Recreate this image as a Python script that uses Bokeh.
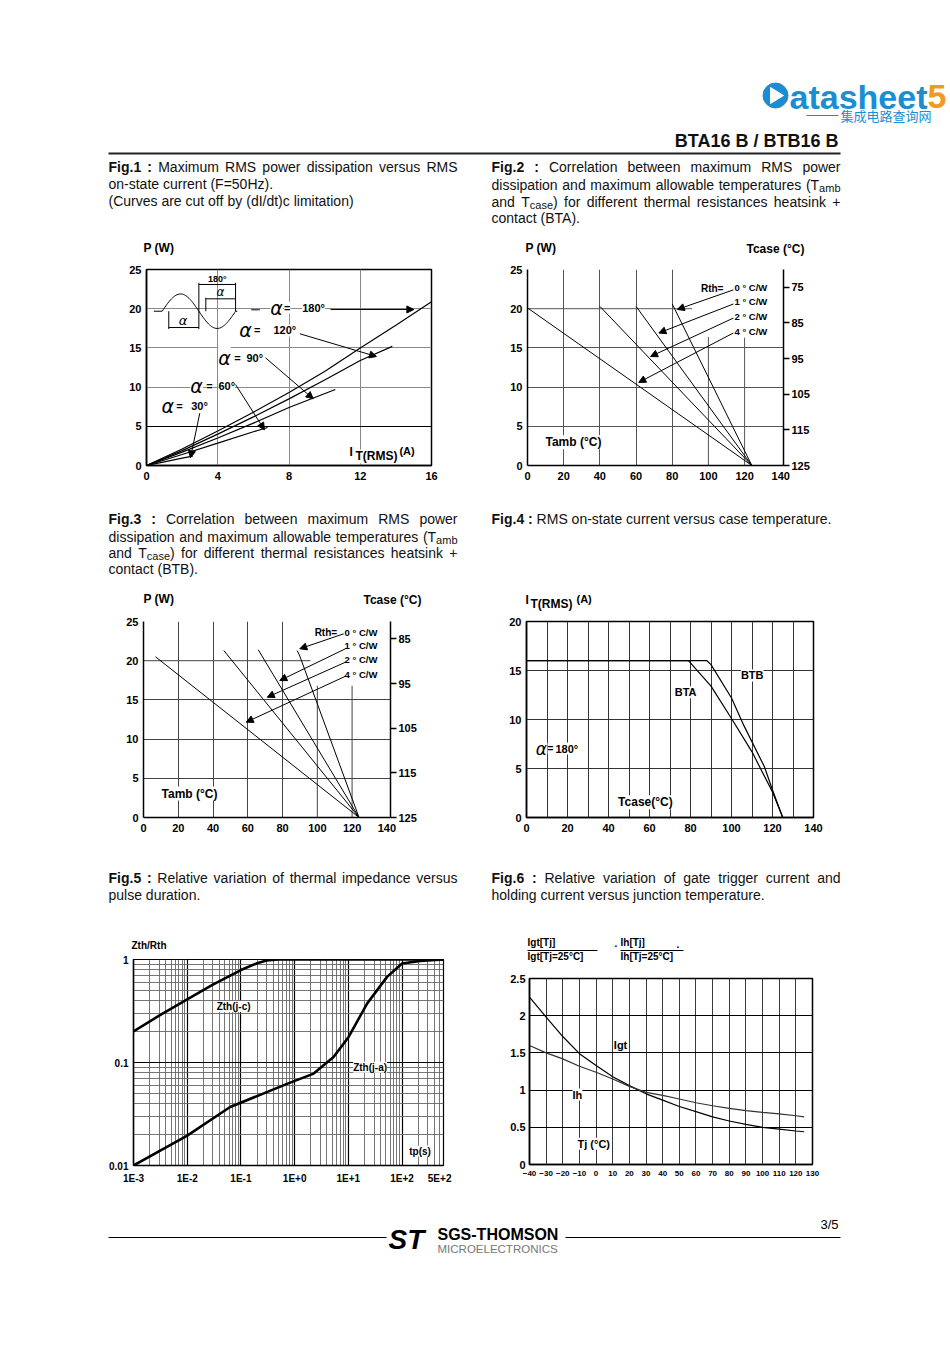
import re
import numpy as np
from bokeh.plotting import figure
from bokeh.layouts import column, row
from bokeh.models import (Range1d, FixedTicker, LinearAxis, Arrow, NormalHead, Grid,
                          NumeralTickFormatter)
from bokeh.core.properties import value
from bokeh.embed import file_html
from bokeh.resources import INLINE

SANS = "Liberation Sans"
GREEK = "DejaVu Sans"
CJK = "Noto Sans CJK SC"

# ======================= DATA =======================
# Fig.1 : P (W) versus IT(RMS) (A) for several conduction angles
f1_xticks = [0, 4, 8, 12, 16]
f1_yticks = [0, 5, 10, 15, 20, 25]
f1_alpha = ["180°", "120°", "90°", "60°", "30°"]
f1_i_180 = [0, 2, 4, 6, 8, 10, 12, 14, 16]
f1_p_180 = [0, 2.1, 4.4, 6.8, 9.3, 12.0, 15.0, 17.9, 20.9]
f1_i_120 = [0, 2, 4, 6, 8, 10, 12, 13.8]
f1_p_120 = [0, 1.9, 4.0, 6.2, 8.5, 10.9, 13.4, 15.2]
f1_i_90 = [0, 2, 4, 6, 8, 10.6]
f1_p_90 = [0, 1.7, 3.5, 5.4, 7.4, 9.7]
f1_i_60 = [0, 2, 4, 6, 6.8]
f1_p_60 = [0, 1.4, 2.85, 4.3, 4.85]
f1_i_30 = [0, 1, 2, 2.6]
f1_p_30 = [0, 0.47, 0.93, 1.2]

# Fig.2 : BTA, P (W) versus Tamb for Rth heatsink + contact
f2_xticks = [0, 20, 40, 60, 80, 100, 120, 140]
f2_yticks = [0, 5, 10, 15, 20, 25]
f2_tcase_ticks = [75, 85, 95, 105, 115, 125]
f2_rth = ["0 ° C/W", "1 ° C/W", "2 ° C/W", "4 ° C/W"]
f2_tamb_rth0 = [80, 124]
f2_p_rth0 = [20.6, 0]
f2_tamb_rth1 = [60, 124]
f2_p_rth1 = [20.3, 0]
f2_tamb_rth2 = [40, 124]
f2_p_rth2 = [20.3, 0]
f2_tamb_rth4 = [0, 124]
f2_p_rth4 = [20.1, 0]

# Fig.3 : BTB
f3_xticks = [0, 20, 40, 60, 80, 100, 120, 140]
f3_yticks = [0, 5, 10, 15, 20, 25]
f3_tcase_ticks = [85, 95, 105, 115, 125]
f3_rth = ["0 ° C/W", "1 ° C/W", "2 ° C/W", "4 ° C/W"]
f3_tamb_rth0 = [88.4, 89.9, 124]
f3_p_rth0 = [21.3, 20.6, 0]
f3_tamb_rth1 = [66.0, 124]
f3_p_rth1 = [21.4, 0]
f3_tamb_rth2 = [46.2, 124]
f3_p_rth2 = [21.3, 0]
f3_tamb_rth4 = [6.9, 124]
f3_p_rth4 = [20.5, 0]

# Fig.4 : IT(RMS) (A) versus Tcase
f4_xticks = [0, 20, 40, 60, 80, 100, 120, 140]
f4_yticks = [0, 5, 10, 15, 20]
f4_tcase_bta = [0, 79, 90, 100, 110, 120, 125]
f4_it_bta = [16, 16, 13.4, 10.1, 6.7, 2.6, 0]
f4_tcase_btb = [0, 88, 90, 100, 106, 116, 120, 125]
f4_it_btb = [16, 16, 15.6, 12.2, 9.4, 5.2, 2.8, 0]

# Fig.5 : Zth/Rth versus tp (s)
f5_xticks = [1e-3, 1e-2, 1e-1, 1, 10, 100, 500]
f5_xlabels = ["1E-3", "1E-2", "1E-1", "1E+0", "1E+1", "1E+2", "5E+2"]
f5_yticks = [0.01, 0.1, 1]
f5_ylabels = ["0.01", "0.1", "1"]
f5_tp_jc = [1e-3, 3e-3, 1e-2, 3e-2, 0.1, 0.2, 0.3, 0.5, 590]
f5_z_jc = [0.2, 0.285, 0.41, 0.57, 0.79, 0.92, 0.98, 1.0, 1.0]
f5_tp_ja = [1e-3, 1e-2, 0.063, 0.72, 2.26, 5.3, 10.1, 22.3, 52.5, 100, 219, 590]
f5_z_ja = [0.01, 0.0195, 0.037, 0.062, 0.078, 0.113, 0.177, 0.373, 0.678, 0.914, 0.97, 1.0]

# Fig.6 : Igt and Ih relative to 25 °C versus Tj
f6_xticks = list(range(-40, 131, 10))
f6_yticks = [0, 0.5, 1, 1.5, 2, 2.5]
f6_tj = [-40, -30, -20, -10, 0, 10, 20, 30, 40, 50, 60, 70, 80, 90, 100, 110, 120, 125]
f6_igt = [2.25, 1.98, 1.72, 1.49, 1.33, 1.18, 1.06, 0.95, 0.865, 0.78, 0.71, 0.64, 0.585,
          0.54, 0.50, 0.475, 0.45, 0.44]
f6_ih = [1.6, 1.5, 1.42, 1.32, 1.24, 1.15, 1.05, 0.97, 0.93, 0.88, 0.83, 0.79, 0.755,
         0.725, 0.70, 0.68, 0.655, 0.64]

# ======================= HELPERS =======================
_REG = dict(zip("abcdefghijklmnopqrstuvwxyz",
                [556, 556, 500, 556, 556, 278, 556, 556, 222, 222, 500, 222, 833, 556, 556, 556,
                 556, 333, 500, 278, 556, 500, 722, 500, 500, 500]))
_REG.update(zip("ABCDEFGHIJKLMNOPQRSTUVWXYZ",
                [667, 667, 722, 722, 667, 611, 778, 722, 278, 500, 667, 556, 833, 722, 778, 667,
                 778, 722, 667, 611, 722, 667, 944, 667, 667, 611]))
_REG.update({d: 556 for d in "0123456789"})
_REG.update({' ': 278, '.': 278, ',': 278, ':': 278, '(': 333, ')': 333, '-': 333, '+': 584,
             '=': 584, '/': 278, '°': 400})
_BOLD = dict(_REG)
_BOLD.update({'F': 611, 'i': 278, 'g': 611, ':': 333, ' ': 278})

CAP = 14


def seg_w(t, kind):
    if kind == "b":
        return sum(_BOLD.get(c, 556) for c in t) * CAP / 1000
    if kind == "s":
        return sum(_REG.get(c, 556) for c in t) * 11 / 1000
    return sum(_REG.get(c, 556) for c in t) * CAP / 1000


def parse_word(w, bold):
    segs = []
    for part in re.split(r"(_\{[^}]*\})", w):
        if not part:
            continue
        if part.startswith("_{"):
            segs.append((part[2:-1], "s"))
        else:
            segs.append((part, "b" if bold else "r"))
    return segs


def caption(p, x0, x1, yc, line, justify):
    toks = line.split()
    nb = 2 if line.startswith("Fig.") else 0
    items = [parse_word(w, k < nb) for k, w in enumerate(toks)]
    widths = [sum(seg_w(t, k) for t, k in segs) for segs in items]
    if justify and len(items) > 1:
        gap = (x1 - x0 - sum(widths)) / (len(items) - 1)
    else:
        gap = 278 * CAP / 1000
    groups = {"r": ([], [], []), "b": ([], [], []), "s": ([], [], [])}
    x = x0
    for segs, wd in zip(items, widths):
        xx = x
        for t, k in segs:
            gx, gy, gt = groups[k]
            gx.append(xx)
            gy.append(yc + (3.5 if k == "s" else 0))
            gt.append(t)
            xx += seg_w(t, k)
        x += wd + gap
    for k, (gx, gy, gt) in groups.items():
        if not gx:
            continue
        p.text(x=gx, y=gy, text=gt, text_font=value(SANS),
               text_font_size=("11px" if k == "s" else f"{CAP}px"),
               text_font_style=("bold" if k == "b" else "normal"),
               text_align="left", text_baseline="middle", text_color="#111111")


def txt(p, x, y, s, size=11, style="bold", align="left", baseline="middle",
        color="black", font=SANS, bg=None):
    p.text(x=[x], y=[y], text=[s], text_font=value(font), text_font_size=f"{size}px",
           text_font_style=style, text_align=align, text_baseline=baseline,
           text_color=color, background_fill_color=bg)


def band(x0, x1, y0, y1):
    p = figure(width=x1 - x0, height=y1 - y0, x_range=Range1d(x0, x1),
               y_range=Range1d(y1, y0), output_backend="svg", toolbar_location=None,
               x_axis_location=None, y_axis_location=None, frame_align=False,
               min_border_left=0, min_border_right=0, min_border_top=0, min_border_bottom=0)
    p.outline_line_color = None
    p.center = []
    p.background_fill_color = "white"
    p.border_fill_color = "white"
    return p


def chart(x0, x1, y0, y1, fl, ft, fw, fh, xr, yr, **kw):
    W, H = x1 - x0, y1 - y0
    left, top = fl - x0, ft - y0
    p = figure(width=W, height=H, x_range=xr, y_range=yr, output_backend="svg",
               toolbar_location=None, frame_align=False, min_border_left=left,
               min_border_right=W - left - fw, min_border_top=top,
               min_border_bottom=H - top - fh, **kw)
    p.background_fill_color = "white"
    p.border_fill_color = "white"
    p.outline_line_color = None
    for ax in p.axis:
        style_axis(ax)
    return p


def style_axis(ax, size="11px", standoff=5):
    ax.axis_line_color = "black"
    ax.axis_line_width = 1.5
    ax.major_tick_line_color = None
    ax.minor_tick_line_color = None
    ax.major_tick_in = 0
    ax.major_tick_out = 0
    ax.minor_tick_in = 0
    ax.minor_tick_out = 0
    ax.major_label_text_font = SANS
    ax.major_label_text_font_size = size
    ax.major_label_text_font_style = "bold"
    ax.major_label_text_color = "black"
    ax.major_label_standoff = standoff


def arrow(p, xs, ys, xe, ye, size=7):
    p.add_layout(Arrow(end=NormalHead(size=size, fill_color="black", line_color="black"),
                       x_start=xs, y_start=ys, x_end=xe, y_end=ye,
                       line_color="black", line_width=1))


def tcase_axis(p, rng, ticks):
    p.extra_y_ranges = {"tc": rng}
    ax = LinearAxis(y_range_name="tc", ticker=FixedTicker(ticks=ticks))
    style_axis(ax, standoff=2)
    ax.major_tick_out = 6
    ax.major_tick_line_color = "black"
    ax.major_tick_line_width = 1.5
    p.add_layout(ax, "right")


# page geometry (the page is drawn from its top-left corner)
PW, PH = 950, 1345
MID = 475

# ======================= HEADER =======================
HEAD = band(0, PW, 0, 156)
HEAD.circle(x=[775], y=[95], radius=12.5, fill_color="#1b8ed3", line_color="#1b8ed3")
HEAD.patch(x=[770, 770, 783], y=[87, 103, 95], fill_color="white", line_color="white")
txt(HEAD, 789, 96, "atasheet", size=34, style="bold", color="#1b8ed3")
txt(HEAD, 927, 96, "5", size=34, style="bold", color="#f29a1f")
HEAD.segment(x0=[806], y0=[115], x1=[838], y1=[115], line_color="#1b8ed3", line_width=1)
txt(HEAD, 840, 115, "集成电路查询网", size=13, style="normal", color="#1b8ed3", font=CJK)
txt(HEAD, 838, 140, "BTA16 B / BTB16 B", size=18, style="bold", align="right",
    color="#111111")
HEAD.segment(x0=[108], y0=[153], x1=[840], y1=[153], line_color="#222222", line_width=2)

# ======================= TEXT BANDS =======================
T1 = band(0, MID, 156, 260)
caption(T1, 108, 457, 166, "Fig.1 : Maximum RMS power dissipation versus RMS", True)
caption(T1, 108, 457, 183, "on-state current (F=50Hz).", False)
caption(T1, 108, 457, 200, "(Curves are cut off by (dI/dt)c limitation)", False)
txt(T1, 143, 247, "P (W)", size=12)

T2 = band(MID, PW, 156, 260)
caption(T2, 491, 840, 166, "Fig.2 : Correlation between maximum RMS power", True)
caption(T2, 491, 840, 184, "dissipation and maximum allowable temperatures (T_{amb}", True)
caption(T2, 491, 840, 201, "and T_{case}) for different thermal resistances heatsink +", True)
caption(T2, 491, 840, 217, "contact (BTA).", False)
txt(T2, 525, 247, "P (W)", size=12)
txt(T2, 746, 248, "Tcase (°C)", size=12)

T3 = band(0, MID, 490, 611)
caption(T3, 108, 457, 518, "Fig.3 : Correlation between maximum RMS power", True)
caption(T3, 108, 457, 536, "dissipation and maximum allowable temperatures (T_{amb}", True)
caption(T3, 108, 457, 552, "and T_{case}) for different thermal resistances heatsink +", True)
caption(T3, 108, 457, 568, "contact (BTB).", False)
txt(T3, 143, 598, "P (W)", size=12)
txt(T3, 363, 599, "Tcase (°C)", size=12)

T4 = band(MID, PW, 490, 611)
caption(T4, 491, 840, 518, "Fig.4 : RMS on-state current versus case temperature.", False)
txt(T4, 525, 599, "I", size=12)
txt(T4, 530, 603, "T(RMS)", size=12)
txt(T4, 576, 598, "(A)", size=11)

T5 = band(0, MID, 845, 952)
caption(T5, 108, 457, 877, "Fig.5 : Relative variation of thermal impedance versus", True)
caption(T5, 108, 457, 894, "pulse duration.", False)
txt(T5, 131, 945, "Zth/Rth", size=10)

T6 = band(MID, PW, 845, 970)
caption(T6, 491, 840, 877, "Fig.6 : Relative variation of gate trigger current and", True)
caption(T6, 491, 840, 894, "holding current versus junction temperature.", False)
txt(T6, 527, 942, "Igt[Tj]", size=10)
txt(T6, 527, 956, "Igt[Tj=25°C]", size=10)
T6.segment(x0=[527, 620], y0=[950, 950], x1=[597, 683], y1=[950, 950],
           line_color="black", line_width=1)
txt(T6, 614, 942, ".", size=10)
txt(T6, 620, 942, "Ih[Tj]", size=10)
txt(T6, 676, 943, ".", size=10)
txt(T6, 620, 956, "Ih[Tj=25°C]", size=10)

# ======================= FIG 1 =======================
C1 = chart(0, MID, 260, 490, 146, 269, 285, 196, Range1d(0, 16), Range1d(0, 25))
C1.xaxis.ticker = FixedTicker(ticks=f1_xticks)
C1.yaxis.ticker = FixedTicker(ticks=f1_yticks)
C1.xaxis.major_label_standoff = 6
C1.xgrid.ticker = FixedTicker(ticks=[4, 8, 12])
C1.ygrid.ticker = FixedTicker(ticks=[10, 15, 20])
C1.xgrid.grid_line_color = "#8a8a8a"
C1.ygrid.grid_line_color = "#8a8a8a"
C1.add_layout(Grid(dimension=1, ticker=FixedTicker(ticks=[5]), grid_line_color="black"))
C1.outline_line_color = "black"
C1.outline_line_width = 1.5
for xs, ys in [(f1_i_180, f1_p_180), (f1_i_120, f1_p_120), (f1_i_90, f1_p_90),
               (f1_i_60, f1_p_60), (f1_i_30, f1_p_30)]:
    C1.line(xs, ys, line_color="black", line_width=1.2)
f1_lab_ax = [7.30, 5.56, 4.38, 2.81, 1.20]
f1_lab_eq = [7.90, 6.21, 5.11, 3.54, 1.85]
f1_lab_nx = [8.74, 7.13, 5.61, 4.04, 2.51]
f1_lab_y = [20.11, 17.22, 13.74, 10.08, 7.65]
for a, e, n, y, lab in zip(f1_lab_ax, f1_lab_eq, f1_lab_nx, f1_lab_y, f1_alpha):
    txt(C1, a, y, "α", size=19, style="italic", align="center", font=GREEK, bg="white")
    txt(C1, e, y, "=", size=11, align="center", bg="white")
    txt(C1, n, y, lab, size=11, bg="white")
C1.segment(x0=[5.88], y0=[19.86], x1=[6.36], y1=[19.86], line_color="black", line_width=1)
for xs, ys, xe, ye in [(10.33, 19.90, 15.01, 19.90), (8.61, 16.80, 12.91, 13.90),
                       (6.68, 13.74, 9.36, 8.51), (5.00, 10.33, 6.62, 4.55),
                       (2.99, 6.67, 2.47, 0.98)]:
    arrow(C1, xs, ys, xe, ye)
# waveform sketch
wx = np.linspace(0.88, 5.0, 80)
wy = 19.68 + 2.2 * np.sin(np.pi * (wx - 0.88) / 2.06)
C1.line(np.concatenate([[0.41], wx, [5.1]]), np.concatenate([[19.68], wy, [19.68]]),
        line_color="black", line_width=1)
C1.segment(x0=[1.25, 2.94, 1.25, 2.94, 5.0, 2.94, 3.33, 3.33],
           y0=[19.68, 19.68, 17.6, 19.68, 19.68, 23.09, 19.68, 21.26],
           x1=[1.25, 2.94, 2.94, 2.94, 5.0, 5.0, 3.33, 5.0],
           y1=[17.4, 17.4, 17.6, 23.3, 23.3, 23.09, 21.4, 21.26],
           line_color="black", line_width=1)
txt(C1, 2.05, 18.55, "α", size=13, style="italic", align="center", font=GREEK)
txt(C1, 4.15, 22.15, "α", size=12, style="italic", align="center", font=GREEK)
txt(C1, 3.97, 23.75, "180°", size=9, align="center")
txt(C1, 11.40, 1.66, "I", size=12, bg="white")
txt(C1, 11.73, 1.15, "T(RMS)", size=12, bg="white")
txt(C1, 14.20, 1.79, "(A)", size=11, bg="white")

# ======================= FIG 2 =======================
C2 = chart(MID, PW, 260, 490, 527, 269, 256, 196, Range1d(0, 141.5), Range1d(0, 25))
C2.xaxis.ticker = FixedTicker(ticks=f2_xticks)
C2.yaxis.ticker = FixedTicker(ticks=f2_yticks)
C2.xaxis.major_label_standoff = 6
C2.xgrid.ticker = FixedTicker(ticks=[20, 40, 60, 80])
C2.ygrid.ticker = FixedTicker(ticks=[5, 10, 15])
C2.xgrid.grid_line_color = "#555555"
C2.ygrid.grid_line_color = "#555555"
C2.segment(x0=[100, 120, 0], y0=[0, 0, 20], x1=[100, 120, 91], y1=[16.4, 16.3, 20],
           line_color="#555555", line_width=1)
tcase_axis(C2, Range1d(125, 70), f2_tcase_ticks)
for xs, ys in [(f2_tamb_rth0, f2_p_rth0), (f2_tamb_rth1, f2_p_rth1),
               (f2_tamb_rth2, f2_p_rth2), (f2_tamb_rth4, f2_p_rth4)]:
    C2.line(xs, ys, line_color="black", line_width=1)
txt(C2, 108.3, 22.6, "Rth=", size=10, align="right", bg="white")
for y, lab in zip([22.70, 20.88, 19.0, 17.09], f2_rth):
    txt(C2, 114.4, y, lab, size=9.5, bg="white")
for xs, ys, xe, ye in [(113.8, 22.4, 82.8, 19.9), (113.8, 20.6, 72.6, 16.9),
                       (113.8, 18.8, 68.0, 13.9), (113.8, 16.9, 61.5, 10.6)]:
    arrow(C2, xs, ys, xe, ye)
txt(C2, 9.95, 2.97, "Tamb (°C)", size=12, bg="white")

# ======================= FIG 3 =======================
C3 = chart(0, MID, 611, 845, 143, 621, 247, 196, Range1d(0, 142.1), Range1d(0, 25))
C3.xaxis.ticker = FixedTicker(ticks=f3_xticks)
C3.yaxis.ticker = FixedTicker(ticks=f3_yticks)
C3.xaxis.major_label_standoff = 6
C3.xgrid.ticker = FixedTicker(ticks=[20, 40, 60, 80])
C3.ygrid.ticker = FixedTicker(ticks=[5, 10, 15])
C3.xgrid.grid_line_color = "#444444"
C3.ygrid.grid_line_color = "#444444"
C3.segment(x0=[100, 120, 0], y0=[0, 0, 20], x1=[100, 120, 96], y1=[16.8, 16.8, 20],
           line_color="#444444", line_width=1)
tcase_axis(C3, Range1d(125, 81.1), f3_tcase_ticks)
for xs, ys in [(f3_tamb_rth0, f3_p_rth0), (f3_tamb_rth1, f3_p_rth1),
               (f3_tamb_rth2, f3_p_rth2), (f3_tamb_rth4, f3_p_rth4)]:
    C3.line(xs, ys, line_color="black", line_width=1)
txt(C3, 111.4, 23.64, "Rth=", size=10, align="right", bg="white")
for y, lab in zip([23.64, 21.94, 20.15, 18.2], f3_rth):
    txt(C3, 115.7, y, lab, size=9.5, bg="white")
for xs, ys, xe, ye in [(115.2, 23.43, 89.9, 21.52), (116.2, 21.52, 78.4, 17.47),
                       (116.2, 19.81, 71.2, 15.34), (116.2, 18.02, 59.1, 12.16)]:
    arrow(C3, xs, ys, xe, ye)
txt(C3, 10.4, 3.06, "Tamb (°C)", size=12, bg="white")

# ======================= FIG 4 =======================
C4 = chart(MID, PW, 611, 845, 526, 621, 287, 196, Range1d(0, 140), Range1d(0, 20))
C4.xaxis.ticker = FixedTicker(ticks=f4_xticks)
C4.yaxis.ticker = FixedTicker(ticks=f4_yticks)
C4.xaxis.major_label_standoff = 6
C4.xgrid.ticker = FixedTicker(ticks=list(range(10, 140, 10)))
C4.ygrid.ticker = FixedTicker(ticks=[5, 10, 15])
C4.xgrid.grid_line_color = "#333333"
C4.ygrid.grid_line_color = "#333333"
C4.outline_line_color = "black"
C4.outline_line_width = 1.5
C4.line(f4_tcase_bta, f4_it_bta, line_color="black", line_width=1.2)
C4.line(f4_tcase_btb, f4_it_btb, line_color="black", line_width=1.2)
txt(C4, 110.1, 14.49, "BTB", size=11, align="center", bg="white")
txt(C4, 77.6, 12.79, "BTA", size=11, align="center", bg="white")
txt(C4, 7.3, 7.04, "α", size=17, style="italic", align="center", font=GREEK, bg="white")
txt(C4, 11.7, 7.04, "=", size=10, align="center", bg="white")
txt(C4, 14.1, 7.04, "180°", size=11, bg="white")
txt(C4, 58.0, 1.56, "Tcase(°C)", size=12, align="center", bg="white")

# ======================= FIG 5 =======================
C5 = chart(0, MID, 952, 1190, 133, 959, 310, 206, Range1d(1e-3, 590), Range1d(0.01, 1),
           x_axis_type="log", y_axis_type="log")
C5.xaxis.ticker = FixedTicker(ticks=f5_xticks)
C5.yaxis.ticker = FixedTicker(ticks=f5_yticks)
C5.xaxis.major_label_overrides = dict(zip(f5_xticks, f5_xlabels))
C5.yaxis.major_label_overrides = dict(zip(f5_yticks, f5_ylabels))
C5.xaxis.major_label_text_font_size = "10px"
C5.yaxis.major_label_text_font_size = "10px"
C5.xaxis.major_label_standoff = 7
dec_x = [1e-3, 1e-2, 1e-1, 1, 10, 100]
C5.xgrid.ticker = FixedTicker(ticks=dec_x,
                              minor_ticks=[m * d for d in dec_x for m in range(2, 10) if m * d < 590])
C5.ygrid.ticker = FixedTicker(ticks=f5_yticks,
                              minor_ticks=[m * d for d in [0.01, 0.1] for m in range(2, 10)])
for g in (C5.xgrid, C5.ygrid):
    g.grid_line_color = "black"
    g.grid_line_width = 1.2
    g.minor_grid_line_color = "#666666"
    g.minor_grid_line_width = 0.9
C5.outline_line_color = "black"
C5.outline_line_width = 1.2
C5.line(f5_tp_jc, f5_z_jc, line_color="black", line_width=2.6)
C5.line(f5_tp_ja, f5_z_ja, line_color="black", line_width=2.6)
txt(C5, 0.073, 0.35, "Zth(j-c)", size=10, align="center", bg="white")
txt(C5, 25.4, 0.09, "Zth(j-a)", size=10, align="center", bg="white")
txt(C5, 216, 0.0138, "tp(s)", size=10, align="center", bg="white")

# ======================= FIG 6 =======================
C6 = chart(MID, PW, 970, 1190, 529, 978, 283, 186, Range1d(-40, 130), Range1d(0, 2.5))
C6.xaxis.ticker = FixedTicker(ticks=f6_xticks)
C6.yaxis.ticker = FixedTicker(ticks=f6_yticks)
C6.yaxis.formatter = NumeralTickFormatter(format="0.[0]")
C6.xaxis.major_label_text_font_size = "8px"
C6.xaxis.major_label_standoff = 6
C6.yaxis.major_label_standoff = 4
C6.xgrid.ticker = FixedTicker(ticks=list(range(-30, 130, 10)))
C6.ygrid.ticker = FixedTicker(ticks=[0.5, 1, 1.5, 2])
C6.xgrid.grid_line_color = "#3a3a3a"
C6.ygrid.grid_line_color = "black"
C6.outline_line_color = "black"
C6.outline_line_width = 1.5
C6.line(f6_tj, f6_igt, line_color="black", line_width=1.2)
C6.line(f6_tj, f6_ih, line_color="#333333", line_width=1.2)
txt(C6, 14.7, 1.6, "Igt", size=11, align="center", bg="white")
txt(C6, -11.2, 0.94, "Ih", size=11, align="center", bg="white")
txt(C6, -1.4, 0.28, "Tj (°C)", size=11, align="center", bg="white")

# ======================= FOOTER =======================
FOOT = band(0, PW, 1190, PH)
FOOT.segment(x0=[108, 565], y0=[1237, 1237], x1=[386, 840], y1=[1237, 1237],
             line_color="black", line_width=1)
txt(FOOT, 388, 1239, "ST", size=28, style="bold italic")
txt(FOOT, 437, 1234, "SGS-THOMSON", size=16, style="bold")
txt(FOOT, 437, 1248, "MICROELECTRONICS", size=11.5, style="normal", color="#777777")
txt(FOOT, 838, 1224, "3/5", size=13, style="normal", align="right")

layout = column(HEAD,
                row(column(T1, C1, T3, C3, T5, C5), column(T2, C2, T4, C4, T6, C6)),
                FOOT)

with open("out.html", "w") as f:
    f.write(file_html(layout, INLINE))
